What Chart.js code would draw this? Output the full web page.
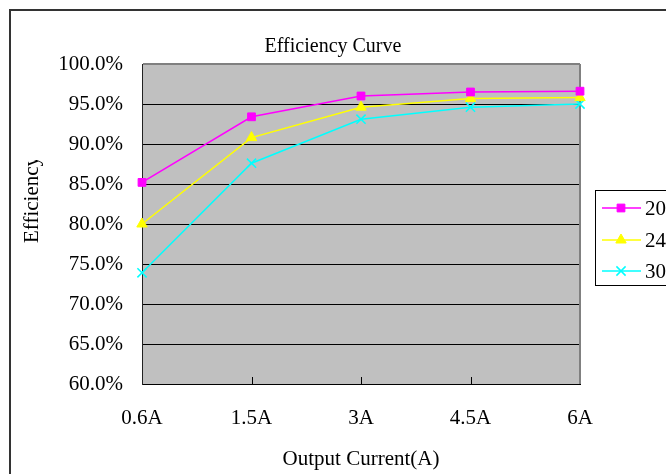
<!DOCTYPE html>
<html>
<head>
<meta charset="utf-8">
<script src="https://cdn.jsdelivr.net/npm/chart.js@4"></script>
<style>
  html, body { margin: 0; padding: 0; background: #fff; }
  #wrap { width: 666px; height: 474px; }
</style>
</head>
<body>
<div id="wrap"><canvas id="chart" width="666" height="474"></canvas></div>
<script>
// data
const categories = ['0.6A', '1.5A', '3A', '4.5A', '6A'];
const seriesNames = ['20', '24', '30'];
const eff20 = [85.2, 93.4, 96.0, 96.5, 96.6];
const eff24 = [80.0, 90.8, 94.6, 95.7, 95.8];
const eff30 = [73.9, 87.6, 93.1, 94.6, 95.0];
const yTicks = [60, 65, 70, 75, 80, 85, 90, 95, 100];

const FONT = 'Liberation Serif, Times New Roman, serif';

// frame, plot background, clipped y title, inner x ticks, legend box
const excelLook = {
  id: 'excelLook',
  beforeDraw(chart) {
    const { ctx, chartArea: a } = chart;
    ctx.save();
    ctx.fillStyle = '#fff';
    ctx.fillRect(0, 0, chart.width, chart.height);
    ctx.strokeStyle = '#333';
    ctx.lineWidth = 2;
    ctx.strokeRect(10, 10, 700, 500);
    ctx.fillStyle = '#c0c0c0';
    ctx.fillRect(a.left, a.top, a.right - a.left, a.bottom - a.top);
    ctx.restore();
  },
  beforeDatasetsDraw(chart) {
    const { ctx, chartArea: a } = chart;
    const x = chart.scales.x;
    ctx.save();
    // right border of the plot
    ctx.strokeStyle = '#808080';
    ctx.lineWidth = 2;
    ctx.beginPath();
    ctx.moveTo(a.right, a.top);
    ctx.lineTo(a.right, a.bottom);
    ctx.stroke();
    // small tick marks pointing into the plot
    ctx.strokeStyle = '#000';
    ctx.lineWidth = 1;
    x.ticks.forEach((t, i) => {
      if (i === 0 || i === x.ticks.length - 1) return;
      const px = Math.round(x.getPixelForTick(i)) + 0.5;
      ctx.beginPath();
      ctx.moveTo(px, a.bottom - 7);
      ctx.lineTo(px, a.bottom);
      ctx.stroke();
    });
    ctx.restore();
  },
  afterDraw(chart) {
    const { ctx } = chart;
    ctx.save();
    // y title, clipped like the original
    ctx.beginPath();
    ctx.rect(12, 160, 60, 200);
    ctx.clip();
    ctx.translate(32, 243);
    ctx.rotate(-Math.PI / 2);
    ctx.fillStyle = '#000';
    ctx.font = '21px ' + FONT;
    ctx.textAlign = 'left';
    ctx.textBaseline = 'middle';
    ctx.fillText('Efficiency', 0, 0);
    ctx.restore();

    // legend
    ctx.save();
    ctx.strokeStyle = '#000';
    ctx.lineWidth = 1;
    ctx.strokeRect(595.5, 190.5, 200, 95);
    const rows = [208, 240, 271];
    chart.data.datasets.forEach((ds, i) => {
      const y = rows[i];
      ctx.strokeStyle = ds.borderColor;
      ctx.lineWidth = ds.borderWidth;
      ctx.beginPath();
      ctx.moveTo(602, y);
      ctx.lineTo(641, y);
      ctx.stroke();
      ctx.fillStyle = ds.borderColor;
      ctx.lineWidth = ds.pointBorderWidth || 1;
      Chart.helpers.drawPoint(ctx, {
        pointStyle: ds.pointStyle,
        radius: ds.pointRadius,
        borderWidth: ds.pointBorderWidth || 1,
        rotation: 0
      }, 621, y);
      ctx.fillStyle = '#000';
      ctx.font = '21px ' + FONT;
      ctx.textAlign = 'left';
      ctx.textBaseline = 'middle';
      ctx.fillText(ds.label, 645, y + 1);
    });
    ctx.restore();
  }
};

const markerSize = { rect: 5.5, triangle: 6, crossRot: 6.5 };

function series(label, data, color, style) {
  return {
    label: label,
    data: data,
    borderColor: color,
    backgroundColor: color,
    pointBackgroundColor: color,
    pointBorderColor: color,
    borderWidth: 1.5,
    pointStyle: style,
    pointRadius: markerSize[style],
    pointBorderWidth: style === 'crossRot' ? 1.5 : 1,
    tension: 0
  };
}

new Chart(document.getElementById('chart'), {
  type: 'line',
  data: {
    labels: categories,
    datasets: [
      series(seriesNames[0], eff20, '#ff00ff', 'rect'),
      series(seriesNames[1], eff24, '#ffff00', 'triangle'),
      series(seriesNames[2], eff30, '#00ffff', 'crossRot')
    ]
  },
  options: {
    responsive: false,
    animation: false,
    layout: { padding: 0 },
    scales: {
      x: {
        offset: false,
        grid: { display: false, drawTicks: false },
        border: { display: true, color: '#000', width: 1 },
        ticks: { color: '#000', font: { family: FONT, size: 21 }, padding: 22, maxRotation: 0 },
        title: {
          display: true,
          text: 'Output Current(A)',
          color: '#000',
          font: { family: FONT, size: 21 },
          padding: { top: 0, bottom: 2 }
        },
        afterFit(s) { s.height = 90; }
      },
      y: {
        min: 60,
        max: 100,
        afterBuildTicks(s) { s.ticks = yTicks.map(v => ({ value: v })); },
        grid: {
          drawTicks: false,
          color: c => (c.tick && c.tick.value === 100 ? '#808080' : '#000'),
          lineWidth: c => (c.tick && c.tick.value === 100 ? 2 : 1)
        },
        border: { display: true, color: '#222', width: 1 },
        ticks: {
          color: '#000',
          font: { family: FONT, size: 21 },
          padding: 19,
          callback: v => v.toFixed(1) + '%'
        },
        afterFit(s) { s.width = 142; }
      },
      y2: {
        position: 'right',
        display: true,
        grid: { display: false, drawTicks: false },
        border: { display: false },
        ticks: { display: false },
        afterFit(s) { s.width = 86; }
      }
    },
    plugins: {
      legend: { display: false },
      tooltip: { enabled: false },
      title: {
        display: true,
        text: 'Efficiency Curve',
        color: '#000',
        font: { family: FONT, size: 20, weight: 'normal' },
        padding: { top: 34.5, bottom: 5.5 }
      }
    }
  },
  plugins: [excelLook]
});
</script>
</body>
</html>
